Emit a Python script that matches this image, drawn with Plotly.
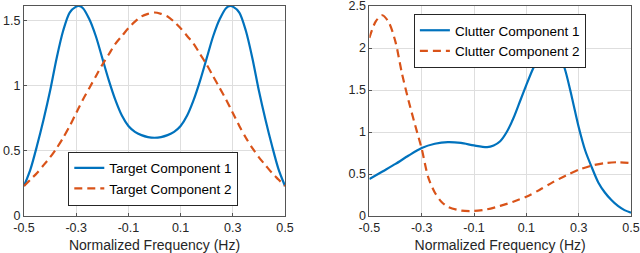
import plotly.graph_objects as go
from plotly.subplots import make_subplots

# ---- data ----
freq_target = [-0.5, -0.475, -0.45, -0.425, -0.4, -0.375, -0.35, -0.325, -0.3, -0.29, -0.275,
               -0.25, -0.225, -0.2, -0.175, -0.15, -0.125, -0.1, -0.075, -0.05, -0.025, 0.0,
               0.025, 0.05, 0.075, 0.1, 0.125, 0.15, 0.175, 0.2, 0.225, 0.25, 0.275, 0.29,
               0.3, 0.325, 0.35, 0.375, 0.4, 0.425, 0.45, 0.475, 0.5]
target_comp1 = [0.23, 0.36, 0.54, 0.74, 0.96, 1.21, 1.42, 1.56, 1.605, 1.61, 1.595,
                1.51, 1.38, 1.21, 1.04, 0.89, 0.77, 0.69, 0.645, 0.62, 0.605, 0.60,
                0.605, 0.62, 0.645, 0.69, 0.77, 0.89, 1.04, 1.21, 1.38, 1.51, 1.595, 1.61,
                1.605, 1.56, 1.42, 1.21, 0.96, 0.74, 0.54, 0.36, 0.23]
target_comp2 = [0.23, 0.28, 0.33, 0.39, 0.45, 0.52, 0.60, 0.69, 0.79, 0.83, 0.89,
                0.98, 1.07, 1.16, 1.24, 1.32, 1.38, 1.44, 1.49, 1.53, 1.55, 1.56,
                1.55, 1.53, 1.49, 1.44, 1.38, 1.32, 1.24, 1.16, 1.07, 0.98, 0.89, 0.83,
                0.79, 0.69, 0.60, 0.52, 0.45, 0.39, 0.33, 0.28, 0.23]

freq_clutter1 = [-0.5, -0.45, -0.4, -0.35, -0.3, -0.25, -0.2, -0.15, -0.1, -0.05, -0.025, 0.0,
                 0.025, 0.05, 0.075, 0.1, 0.125, 0.15, 0.175, 0.2, 0.225, 0.25, 0.275, 0.3,
                 0.325, 0.35, 0.375, 0.4, 0.425, 0.45, 0.475, 0.5]
clutter_comp1 = [0.44, 0.53, 0.62, 0.72, 0.81, 0.86, 0.88, 0.87, 0.84, 0.82, 0.84, 0.89,
                 1.00, 1.16, 1.36, 1.56, 1.75, 1.90, 2.00, 2.03, 1.95, 1.72, 1.40, 1.06,
                 0.78, 0.58, 0.40, 0.28, 0.19, 0.12, 0.07, 0.04]

freq_clutter2 = [-0.5, -0.475, -0.45, -0.425, -0.4, -0.375, -0.35, -0.325, -0.3, -0.275,
                 -0.25, -0.225, -0.2, -0.15, -0.1, -0.05, 0.0, 0.05, 0.1, 0.15, 0.2, 0.25,
                 0.3, 0.35, 0.4, 0.45, 0.5]
clutter_comp2 = [2.12, 2.32, 2.39, 2.30, 2.07, 1.69, 1.37, 1.08, 0.80, 0.46,
                 0.28, 0.17, 0.11, 0.065, 0.06, 0.08, 0.12, 0.17, 0.23, 0.31, 0.40, 0.48,
                 0.55, 0.60, 0.63, 0.64, 0.63]

x_ticks = [-0.5, -0.3, -0.1, 0.1, 0.3, 0.5]
x_ticklabels = ["-0.5", "-0.3", "-0.1", "0.1", "0.3", "0.5"]
y_ticks_left = [0, 0.5, 1, 1.5]
y_ticks_right = [0, 0.5, 1, 1.5, 2, 2.5]

BLUE = "#0072BD"
ORANGE = "#D95319"
FONT = "Liberation Sans, Arial, sans-serif"

fig = make_subplots(rows=1, cols=2)

fig.add_trace(go.Scatter(x=freq_target, y=target_comp1, mode="lines", name="Target Component 1",
                         line=dict(color=BLUE, width=2.2, shape="spline", smoothing=0.8), legend="legend"), 1, 1)
fig.add_trace(go.Scatter(x=freq_target, y=target_comp2, mode="lines", name="Target Component 2",
                         line=dict(color=ORANGE, width=2.2, dash="8px,5px", shape="spline", smoothing=0.8), legend="legend"), 1, 1)
fig.add_trace(go.Scatter(x=freq_clutter1, y=clutter_comp1, mode="lines", name="Clutter Component 1",
                         line=dict(color=BLUE, width=2.2, shape="spline", smoothing=0.8), legend="legend2"), 1, 2)
fig.add_trace(go.Scatter(x=freq_clutter2, y=clutter_comp2, mode="lines", name="Clutter Component 2",
                         line=dict(color=ORANGE, width=2.2, dash="8px,5px", shape="spline", smoothing=0.8), legend="legend2"), 1, 2)

axis_common = dict(showline=True, linecolor="#555555", linewidth=1, mirror=True,
                   ticks="inside", ticklen=3, tickcolor="#555555", automargin=False,
                   ticklabeloverflow="allow",
                   showgrid=True, gridcolor="#dedede", gridwidth=1, zeroline=False,
                   tickfont=dict(family=FONT, size=12.5, color="#262626"))

for c in (1, 2):
    fig.update_xaxes(range=[-0.5, 0.5], tickvals=x_ticks, ticktext=x_ticklabels,
                     title=dict(text="Normalized Frequency (Hz)",
                                font=dict(family=FONT, size=14, color="#262626")),
                     row=1, col=c, **axis_common)
fig.update_yaxes(range=[0, 1.61], tickvals=y_ticks_left, ticktext=["0", "0.5", "1", "1.5"],
                 row=1, col=1, **axis_common)
fig.update_yaxes(range=[0, 2.5001], tickvals=y_ticks_right, ticktext=["0", "0.5", "1", "1.5", "2", "2.5"],
                 row=1, col=2, **axis_common)

legend_common = dict(bgcolor="white", bordercolor="#262626", borderwidth=1,
                     font=dict(family=FONT, size=13.5, color="#000000"),
                     tracegroupgap=0, itemwidth=30)

fig.update_layout(
    width=640, height=253,
    margin=dict(l=24, r=9, t=6, b=37),
    paper_bgcolor="white", plot_bgcolor="white",
    showlegend=True,
    legend=dict(x=0.213, xanchor="center", y=0.05, yanchor="bottom", **legend_common),
    legend2=dict(x=0.784, xanchor="center", y=0.962, yanchor="top", **legend_common),
)
fig.update_xaxes(domain=[0.0, 0.43], row=1, col=1)
fig.update_xaxes(domain=[0.569, 1.0], row=1, col=2)

fig.write_html("out.html", config={"displayModeBar": False},
               post_script="document.body.style.margin='0px';document.body.style.overflow='hidden';")
